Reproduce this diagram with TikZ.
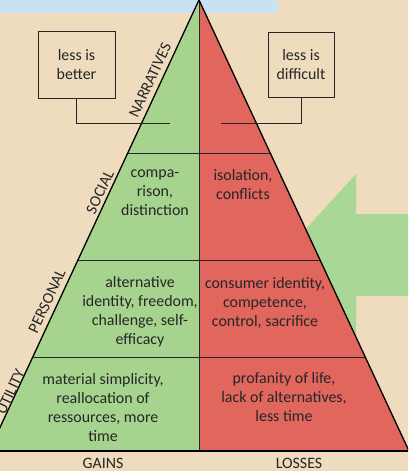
\documentclass[tikz,border=0pt]{standalone}
\usepackage{fontspec}
\setmainfont{Carlito}
\definecolor{bgtan}{RGB}{239,219,189}
\definecolor{skyband}{RGB}{199,227,243}
\definecolor{gaingreen}{RGB}{166,211,142}
\definecolor{arrowgreen}{RGB}{169,215,151}
\definecolor{lossred}{RGB}{224,102,94}
\definecolor{inkgrey}{RGB}{38,38,38}
\tikzset{outline/.style={line width=1.3pt, color=black}}
\tikzset{divider/.style={line width=0.9pt, color=inkgrey}}
\tikzset{cell/.style={align=center, font=\fontsize{15.9}{19}\selectfont, text=inkgrey, inner sep=0pt}}
\tikzset{sidelabel/.style={font=\fontsize{15.9}{19}\selectfont, rotate=65.06, text=inkgrey, inner sep=0pt}}
\tikzset{notebox/.style={draw=inkgrey, line width=0.9pt, align=center, font=\fontsize{15.9}{19}\selectfont, text=inkgrey, inner sep=0pt}}

\begin{document}
\begin{tikzpicture}[x=1pt, y=-1pt]%{{{
        \useasboundingbox (0,0) rectangle (408,471);
        \clip (0,0) rectangle (408,471);
        \fill[bgtan] (0,0) rectangle (408,471);
        \fill[skyband] (0,0) rectangle (278,13);
        \fill[arrowgreen] (282,255) -- (356,174) -- (356,214) -- (408,214) -- (408,296) -- (356,296) -- (356,336) -- cycle;

        \fill[gaingreen] (199,0) -- (-11,451) -- (199,451) -- cycle;
        \fill[lossred] (199,0) -- (199,451) -- (409,451) -- cycle;

        \draw [divider] (127.9,153) -- (270.1,153);
        \draw [divider] (78.1,260) -- (319.9,260);
        \draw [divider] (33,357) -- (365,357);
        \draw [divider] (199,0) -- (199,451);
        \draw [outline] (-11,451) -- (199,0) -- (409,451);
        \draw [outline] (0,451) -- (408,451);

        \node[sidelabel] (Lnarr) at (150,80) {NARRATIVES};
        \node[sidelabel] (Lsocial) at (100,192) {SOCIAL};
        \node[sidelabel] (Lpers) at (47,301) {PERSONAL};
        \node[sidelabel] (Lutil) at (10.5,392) {UTILITY};

        \node[notebox, minimum width=77pt, minimum height=67pt] (Nbetter) at (76.5,64.5) {less is\\better};
        \node[notebox, minimum width=66pt, minimum height=65pt] (Ndifficult) at (301,64.5) {less is\\difficult};
        \coordinate (Lend) at (170,123);
        \coordinate (Rend) at (221,123);
        \draw [divider] (Nbetter.south) |- (Lend);
        \draw [divider] (Ndifficult.south) |- (Rend);

        \node[cell] (Gsocial) at (155,193) {compa-\\rison,\\distinction};
        \node[cell] (Ssocial) at (243,185) {isolation,\\conflicts};
        \node[cell] (Gpers) at (140,312) {alternative\\identity, freedom,\\challenge, self-\\efficacy};
        \node[cell] (Spers) at (265,303) {consumer identity,\\competence,\\control, sacrifice};
        \node[cell] (Gutil) at (103,408) {material simplicity,\\reallocation of\\ressources, more\\time};
        \node[cell] (Sutil) at (284,397) {profanity of life,\\lack of alternatives,\\less time};

        \node[cell] (Ngains) at (103,463) {GAINS};
        \node[cell] (Nlosses) at (299,463) {LOSSES};

    \end{tikzpicture}
\end{document}
